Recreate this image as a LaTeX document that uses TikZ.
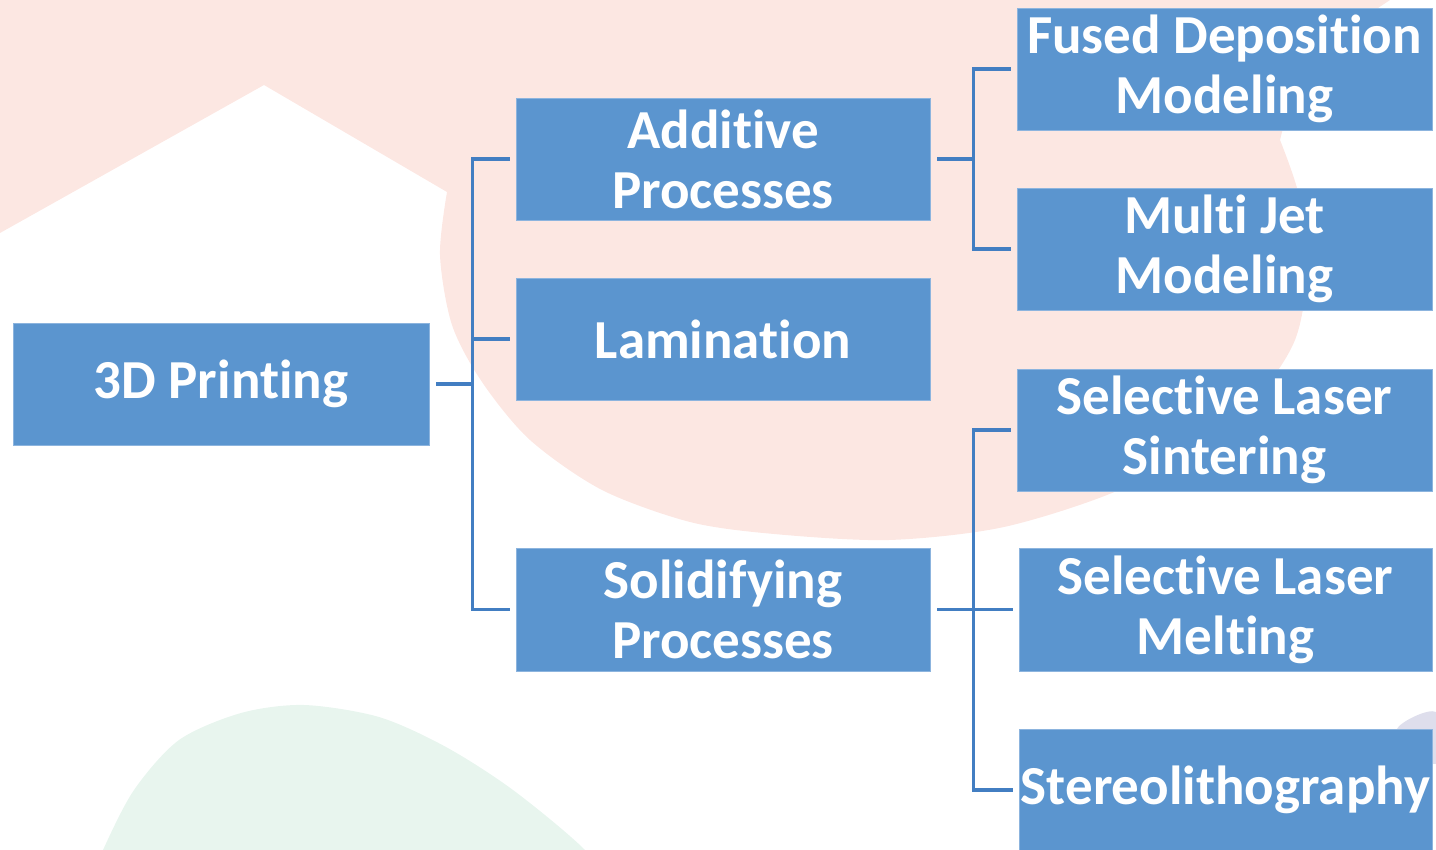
\documentclass[tikz,border=0pt]{standalone}
\usepackage{fontspec}
\setmainfont{Carlito}[Ligatures={NoCommon}]
\usetikzlibrary{calc}
\definecolor{boxblue}{RGB}{91,149,207}
\definecolor{lineblue}{RGB}{66,126,194}
\definecolor{pinkbg}{RGB}{252,231,226}
\definecolor{greenbg}{RGB}{232,245,238}
\definecolor{lavbg}{RGB}{222,222,236}
\tikzset{
  blk/.style={rectangle, fill=boxblue, draw={rgb,255:red,140;green,180;blue,222}, line width=0.8pt,
    text=white, font=\fontsize{55}{60}\selectfont\bfseries, align=center,
    inner sep=0pt, minimum width=415pt, minimum height=122pt},
  conn/.style={draw=lineblue, line width=3.2pt}
}
\begin{document}
\begin{tikzpicture}[x=1pt,y=-1pt]
\useasboundingbox (0,0) rectangle (1436,850);
% background shapes
\fill[pinkbg] (0,0) -- (0,233) -- (264,85) -- (447,192)
  -- plot[smooth] coordinates {(447,192) (440,255) (452,325) (482,382) (530,440) (602,490) (690,522) (774,534) (889,540) (1004,527) (1119,490) (1200,440) (1262,390) (1295,340) (1306,280) (1300,200) (1280,140)}
  -- (1300,60) -- (1390,0) -- cycle;
\fill[greenbg] plot[smooth] coordinates {(88,890) (103,850) (134,790) (179,740) (241,713) (304,705) (379,717) (446,747) (513,790) (585,850) (610,890)} -- cycle;
\fill[lavbg] plot[smooth cycle] coordinates {(1397,729) (1436,712) (1450,760) (1420,760)};
% nodes
\node[blk, minimum width=416pt] (p3d) at (221,384) {3D Printing};
\node[blk, minimum width=414pt] (add) at (723,159) {Additive\\Processes};
\node[blk, minimum width=414pt] (lam) at (723,339) {Lamination};
\node[blk, minimum width=414pt, minimum height=123pt] (sol) at (723,609.5) {Solidifying\\Processes};
\node[blk] (fdm) at (1224.5,69) {Fused Deposition\\Modeling};
\node[blk] (mjm) at (1224.5,249) {Multi Jet\\Modeling};
\node[blk] (sls) at (1224.5,430) {Selective Laser\\Sintering};
\node[blk, minimum width=413pt, minimum height=123pt] (slm) at (1225.5,609.5) {Selective Laser\\Melting};
\node[blk, minimum width=413pt] (sla) at (1225.5,790) {Stereolithography};
% connectors
\coordinate (b1) at ($(p3d.east)+(43,0)$);
\coordinate (b2) at ($(add.east)+(43,0)$);
\coordinate (b3) at ($(sol.east)+(43,0)$);
\draw[conn] ([xshift=7pt]p3d.east) -- (b1);
\draw[conn] ([xshift=-6pt]add.west) -| (b1) |- ([xshift=-6pt]sol.west);
\draw[conn] ([xshift=-6pt]lam.west) -- (lam.west -| b1);
\draw[conn] ([xshift=7pt]add.east) -- (b2);
\draw[conn] ([xshift=-6pt]fdm.west) -| (b2) |- ([xshift=-6pt]mjm.west);
\draw[conn] ([xshift=7pt]sol.east) -- (b3);
\draw[conn] ([xshift=-6pt]sls.west) -| (b3) |- ([xshift=-6pt]sla.west);
\draw[conn] ([xshift=-6pt]slm.west) -- (b3);
\end{tikzpicture}
\end{document}
